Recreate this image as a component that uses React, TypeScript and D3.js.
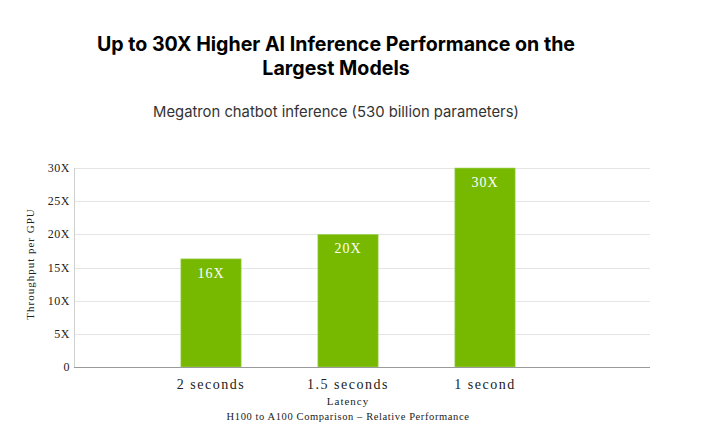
import React from 'react';
import * as d3 from 'd3';

const categories = ['2 seconds', '1.5 seconds', '1 second'];
const throughput = [16.3, 20, 30];
const barLabels = ['16X', '20X', '30X'];
const yTicks = [0, 5, 10, 15, 20, 25, 30];
const yTickLabels = ['0', '5X', '10X', '15X', '20X', '25X', '30X'];

const W = 707;
const H = 441;
const margin = { left: 74, right: 57, top: 168, bottom: 74 };
const serif = '"Liberation Serif", "Times New Roman", serif';
const sans = 'Inter, "Noto Sans", sans-serif';

const App: React.FC = () => {
  const plotRight = W - margin.right;
  const plotBottom = H - margin.bottom;

  const y = d3.scaleLinear().domain([0, 30]).range([plotBottom, margin.top]);
  // bars sit in 137px steps starting from the left axis; the axis runs on further right
  const step = 137;
  const x = d3
    .scaleBand<string>()
    .domain(categories)
    .range([margin.left, margin.left + step * (categories.length + 1)])
    .paddingInner(0.56)
    .paddingOuter(0.5 + 0.28);
  const mid = (c: string) => (x(c) ?? 0) + x.bandwidth() / 2;
  const center = mid(categories[1]);

  return (
    <svg width={W} height={H} style={{ position: 'absolute', left: 0, top: 0, background: '#fff' }}>
      <text x={336} y={51} textAnchor="middle" fontFamily={sans} fontWeight={700} fontSize={19.6} fill="#000">
        Up to 30X Higher AI Inference Performance on the
      </text>
      <text x={336} y={75} textAnchor="middle" fontFamily={sans} fontWeight={700} fontSize={19.6} fill="#000">
        Largest Models
      </text>
      <text x={336} y={117} textAnchor="middle" fontFamily={sans} fontSize={14.8} fill="#333">
        Megatron chatbot inference (530 billion parameters)
      </text>

      {yTicks.map((t, i) => (
        <g key={t}>
          {t > 0 && (
            <line x1={margin.left} x2={plotRight} y1={Math.round(y(t)) + 0.5} y2={Math.round(y(t)) + 0.5} stroke="#e4e4e4" />
          )}
          <text x={70} y={y(t) + 4} textAnchor="end" fontFamily={serif} fontSize={12} letterSpacing={0.5} fill="#222">
            {yTickLabels[i]}
          </text>
        </g>
      ))}

      <line x1={margin.left + 0.5} x2={margin.left + 0.5} y1={margin.top} y2={plotBottom} stroke="#d0d0d0" />

      {categories.map((c, i) => (
        <g key={c}>
          <rect
            x={x(c)}
            y={y(throughput[i])}
            width={x.bandwidth()}
            height={plotBottom - y(throughput[i])}
            fill="#76b900"
            stroke="#a8d66a"
            strokeWidth={0.6}
          />
          <text
            x={mid(c)}
            y={y(throughput[i]) + 19}
            textAnchor="middle"
            fontFamily={serif}
            fontSize={14}
            letterSpacing={1}
            fill="#fff"
          >
            {barLabels[i]}
          </text>
          <text x={mid(c)} y={389} textAnchor="middle" fontFamily={serif} fontSize={14} letterSpacing={1.5} fill="#222">
            {c}
          </text>
        </g>
      ))}

      <line x1={margin.left} x2={plotRight} y1={plotBottom + 0.5} y2={plotBottom + 0.5} stroke="#9a9a9a" />

      <text
        transform={`translate(34, 264) rotate(-90)`}
        textAnchor="middle"
        fontFamily={serif}
        fontSize={11}
        letterSpacing={1}
        fill="#222"
      >
        Throughput per GPU
      </text>
      <text x={center} y={405} textAnchor="middle" fontFamily={serif} fontSize={11} letterSpacing={1} fill="#222">
        Latency
      </text>
      <text x={center} y={420} textAnchor="middle" fontFamily={serif} fontSize={10.5} letterSpacing={0.6} fill="#222">
        H100 to A100 Comparison – Relative Performance
      </text>
    </svg>
  );
};

export default App;
